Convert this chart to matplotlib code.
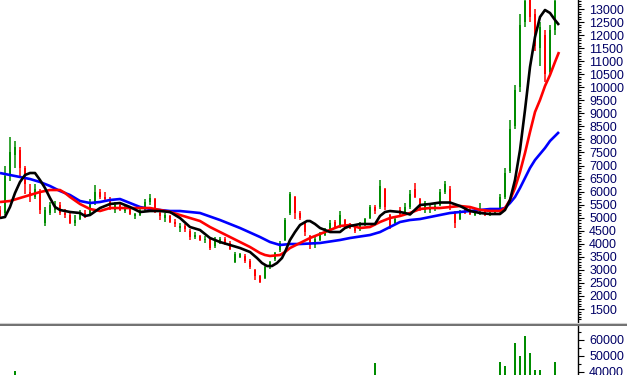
import matplotlib
matplotlib.use("Agg")
import matplotlib.pyplot as plt
from matplotlib.lines import Line2D
from matplotlib.ticker import MultipleLocator, FixedLocator
import numpy as np

plt.rcParams['font.family'] = ['Liberation Sans', 'DejaVu Sans']

# ---------------- data ----------------
opens = [
    5300, 5200, 6600, 7400, 7600, 6900, 6000, 5800, 6000, 4800,
    5200, 5300, 5500, 5200, 5100, 4800, 4950, 5200, 5150, 5600,
    6000, 5800, 5700, 5300, 5500, 5250, 5350, 5050, 5100, 5300,
    5600, 5700, 5200, 5000, 5050, 4850, 4600, 4700, 4500, 4250,
    4300, 4150, 4200, 3900, 4100, 4200, 4050, 3300, 3500, 3550,
    3350, 3000, 2750, 2700, 3100, 3400, 3750, 4150, 5200, 5800,
    5200, 4800, 4300, 3950, 4150, 4350, 4550, 4850, 4650, 4900,
    4700, 4700, 4550, 4750, 5000, 5400, 5400, 6100, 5100, 4800,
    5300, 5150, 5400, 6100, 5700, 5300, 5300, 5350, 5500, 6000,
    6100, 5200, 4950, 5350, 5300, 5100, 5150, 5250, 5100, 5200,
    5250, 5800, 6800, 8500, 10000, 12500, 13400, 12800, 11500, 12000,
    10600, 12200]
closes = [
    5050, 6600, 7500, 7700, 6900, 6300, 5900, 6100, 5300, 5300,
    5500, 5500, 5200, 5100, 4800, 4900, 5200, 5100, 5600, 6000,
    5800, 5700, 5400, 5500, 5300, 5400, 5150, 5150, 5300, 5600,
    5750, 5250, 5050, 5100, 4850, 4750, 4700, 4550, 4250, 4350,
    4150, 4200, 3850, 4150, 4200, 4050, 3800, 3600, 3600, 3350,
    3100, 2750, 2550, 3100, 3300, 3650, 4050, 4900, 5900, 5200,
    5000, 4450, 3950, 4200, 4350, 4500, 4800, 4650, 5100, 4700,
    4600, 4500, 4750, 4950, 5400, 5250, 6200, 5400, 4700, 4950,
    5150, 5400, 5900, 5800, 5350, 5550, 5400, 5450, 6000, 6300,
    5550, 4800, 5200, 5200, 5150, 5250, 5350, 5100, 5250, 5300,
    5800, 6700, 8400, 9900, 12400, 13300, 12700, 11600, 12300, 10500,
    12200, 13300]
highs = [
    5450, 7000, 8100, 7950, 7700, 7000, 6300, 6300, 6100, 5400,
    5600, 5650, 5600, 5350, 5200, 5100, 5300, 5300, 5700, 6250,
    6100, 6000, 5800, 5600, 5600, 5500, 5450, 5200, 5400, 5700,
    5900, 5750, 5300, 5200, 5100, 4950, 4800, 4750, 4550, 4450,
    4350, 4300, 4250, 4250, 4250, 4250, 4100, 3700, 3650, 3600,
    3400, 3050, 2800, 3200, 3350, 3700, 4100, 5000, 6000, 5850,
    5250, 4850, 4350, 4250, 4450, 4600, 4900, 4900, 5250, 4950,
    4800, 4750, 4850, 5000, 5500, 5500, 6450, 6150, 5150, 5050,
    5400, 5550, 6050, 6350, 5750, 5650, 5500, 5550, 6100, 6400,
    6200, 5250, 5300, 5450, 5400, 5350, 5550, 5300, 5300, 5350,
    5900, 6900, 8750, 10100, 12800, 13600, 13600, 13000, 12500, 12200,
    12400, 13600]
lows = [
    4950, 5100, 6400, 6900, 6600, 5900, 5600, 5700, 5150, 4700,
    5100, 5200, 5100, 5000, 4750, 4700, 4900, 5000, 5100, 5500,
    5700, 5600, 5300, 5200, 5250, 5200, 5100, 4950, 5050, 5250,
    5500, 5200, 4900, 4850, 4800, 4650, 4450, 4450, 4150, 4200,
    4100, 4050, 3750, 3850, 4000, 3950, 3750, 3250, 3450, 3250,
    3050, 2600, 2480, 2650, 3050, 3350, 3700, 4100, 5100, 4950,
    4900, 4300, 3800, 3850, 4100, 4300, 4500, 4550, 4600, 4550,
    4550, 4400, 4500, 4700, 4950, 5150, 5350, 5300, 4550, 4750,
    5100, 5100, 5350, 5750, 5250, 5200, 5200, 5250, 5450, 5900,
    5300, 4600, 4900, 5150, 5100, 5050, 5100, 5050, 5050, 5150,
    5150, 5700, 6700, 8400, 9800, 12300, 12500, 11400, 10800, 10200,
    10500, 12000]

# moving averages (day index, price)
ma_short_days = [0, 1, 2, 3, 4, 5, 6, 7, 8, 9, 10, 11, 12, 14, 16, 17, 18, 20, 22, 24,
                 26, 28, 30, 32, 34, 36, 38, 40, 42, 44, 46, 48, 50, 51.4, 52.4, 53.4,
                 54.4, 55.4, 56.4, 57, 58, 59, 60, 61.4, 62, 63, 64, 65, 66, 68, 69, 70,
                 72, 74, 75, 76, 77, 78, 80, 81, 82, 84, 86, 88, 90, 92, 94, 96, 98, 100,
                 101, 102, 103, 104, 105, 106, 107, 108, 109, 110, 111, 111.8]
ma_short = [4989, 5027, 5411, 5947, 6369, 6637, 6714, 6714, 6446, 6139, 5756, 5411, 5296,
            5219, 5181, 5066, 5104, 5372, 5526, 5564, 5411, 5219, 5257, 5257, 5219, 4989,
            4644, 4529, 4222, 4069, 3954, 3839, 3686, 3456, 3264, 3149, 3149, 3264, 3456,
            3686, 4146, 4452, 4721, 4874, 4874, 4759, 4606, 4529, 4452, 4452, 4606, 4682,
            4759, 4759, 4759, 5066, 5219, 5257, 5219, 5181, 5124, 5487, 5526, 5583, 5583,
            5449, 5257, 5181, 5142, 5142, 5296, 5679, 6446, 7595, 9129, 10777, 11927,
            12693, 12962, 12847, 12579, 12387]
ma_mid_days = [0, 2, 4, 6, 8, 10, 12, 13, 14, 16, 18, 20, 22, 24, 26, 28, 30, 32, 34, 36,
               38, 40, 42, 44, 46, 48, 50, 52, 53, 54, 56, 57, 58, 60, 62, 64, 66, 68, 70,
               72, 74, 76, 78, 80, 82, 84, 86, 88, 90, 92, 94, 96, 98, 100, 101, 102, 103,
               104, 105, 106, 107, 108, 109, 110, 111, 111.8]
ma_mid = [5602, 5641, 5756, 5871, 5986, 6062, 6062, 5947, 5794, 5526, 5334, 5257, 5372,
          5372, 5372, 5372, 5372, 5296, 5219, 5104, 4989, 4874, 4644, 4452, 4261, 4069,
          3878, 3648, 3571, 3533, 3571, 3686, 3839, 4031, 4222, 4376, 4529, 4682, 4721,
          4606, 4644, 4836, 4989, 5066, 5181, 5334, 5372, 5372, 5410, 5449, 5410, 5300,
          5260, 5260, 5372, 5679, 6139, 6752, 7480, 8285, 9052, 9512, 10049, 10470,
          10969, 11352]
ma_long_days = [0, 2, 4, 6, 8, 10, 12, 14, 16, 18, 20, 22, 24, 26, 28, 30, 32, 34, 36, 38,
                40, 44, 48, 52, 54, 56, 58, 60, 64, 68, 70, 72, 74, 76, 78, 80, 82, 84, 86,
                88, 90, 92, 94, 96, 98, 100, 101, 102, 103, 104, 105, 106, 107, 108, 109,
                110, 111, 111.8]
ma_long = [6714, 6637, 6561, 6484, 6369, 6216, 6024, 5871, 5641, 5564, 5602, 5679, 5717,
           5564, 5411, 5334, 5296, 5257, 5257, 5219, 5181, 4912, 4606, 4261, 4069, 3954,
           3992, 3992, 4031, 4146, 4222, 4280, 4337, 4450, 4644, 4836, 4912, 4950, 5027,
           5104, 5181, 5219, 5257, 5296, 5334, 5334, 5372, 5564, 5794, 6139, 6522, 6906,
           7212, 7442, 7672, 7941, 8132, 8285]

# volume (only the days whose bars reach the visible part of the panel)
vol_days = [3, 75, 100, 101, 103, 104, 105, 106, 107, 108, 111]
vol_values = [40400, 45600, 46000, 44000, 58400, 50000, 62600, 52000, 41500, 41000, 46000]

price_ticks = list(range(1500, 14000, 500))
volume_ticks = [30000, 40000, 50000, 60000]

# ---------------- figure ----------------
W, H = 627, 375
fig = plt.figure(figsize=(W / 100, H / 100), dpi=100)
fig.patch.set_facecolor('white')

def frac_rect(x0, y0, x1, y1):
    return [x0 / W, 1 - y1 / H, (x1 - x0) / W, (y1 - y0) / H]

ax = fig.add_axes(frac_rect(0, -4.3, 578, 322))
axv = fig.add_axes(frac_rect(0, 326, 578, 390))

GREEN = '#008c00'
RED = '#ff0000'
TICKCOL = '#000066'

days = np.arange(len(closes))
o = np.array(opens); c = np.array(closes)
hi = np.array(highs); lo = np.array(lows)
up = c >= o
cols = np.where(up, GREEN, RED)

ax.vlines(days, lo, hi, colors=cols, linewidth=1.1, zorder=2)
ax.bar(days, np.abs(c - o), bottom=np.minimum(o, c), width=0.5, color=cols,
       linewidth=0, zorder=2)

ax.plot(ma_long_days, ma_long, color='#0000ff', lw=1.9, zorder=3, solid_capstyle='butt')
ax.plot(ma_mid_days, ma_mid, color='#ff0000', lw=1.9, zorder=3, solid_capstyle='butt')
ax.plot(ma_short_days, ma_short, color='#000000', lw=1.9, zorder=4, solid_capstyle='butt')

xlim = (0, 578 / 5)
ax.set_xlim(*xlim)
ax.set_ylim(1003, 13510)
axv.set_xlim(*xlim)
axv.set_ylim(28750, 68750)

axv.bar(vol_days, vol_values, width=0.55, color=GREEN, linewidth=0)

for a in (ax, axv):
    a.set_facecolor('white')
    for s in ('top', 'left', 'bottom'):
        a.spines[s].set_visible(False)
    a.spines['right'].set_color('black')
    a.spines['right'].set_linewidth(1.0)
    a.xaxis.set_visible(False)
    a.yaxis.tick_right()
    a.tick_params(axis='y', which='major', length=4.5, width=0.8, color='black',
                  labelsize=9, labelcolor=TICKCOL, pad=3.5)
    a.tick_params(axis='y', which='minor', length=2.2, width=0.8, color='black')

ax.yaxis.set_major_locator(FixedLocator(price_ticks))
ax.yaxis.set_minor_locator(MultipleLocator(100))
ax.set_yticklabels([str(t) for t in price_ticks])

axv.yaxis.set_major_locator(FixedLocator(volume_ticks))
axv.yaxis.set_minor_locator(MultipleLocator(5000))
axv.set_yticklabels([str(t) for t in volume_ticks])

# separator lines between panels
fig.add_artist(Line2D([0, 1], [1 - 322.5 / H] * 2, color='#d0d0d0', lw=0.8))
fig.add_artist(Line2D([0, 1], [1 - 324.5 / H] * 2, color='#707070', lw=1.4))

fig.savefig('out.png', dpi=100, facecolor='white')
